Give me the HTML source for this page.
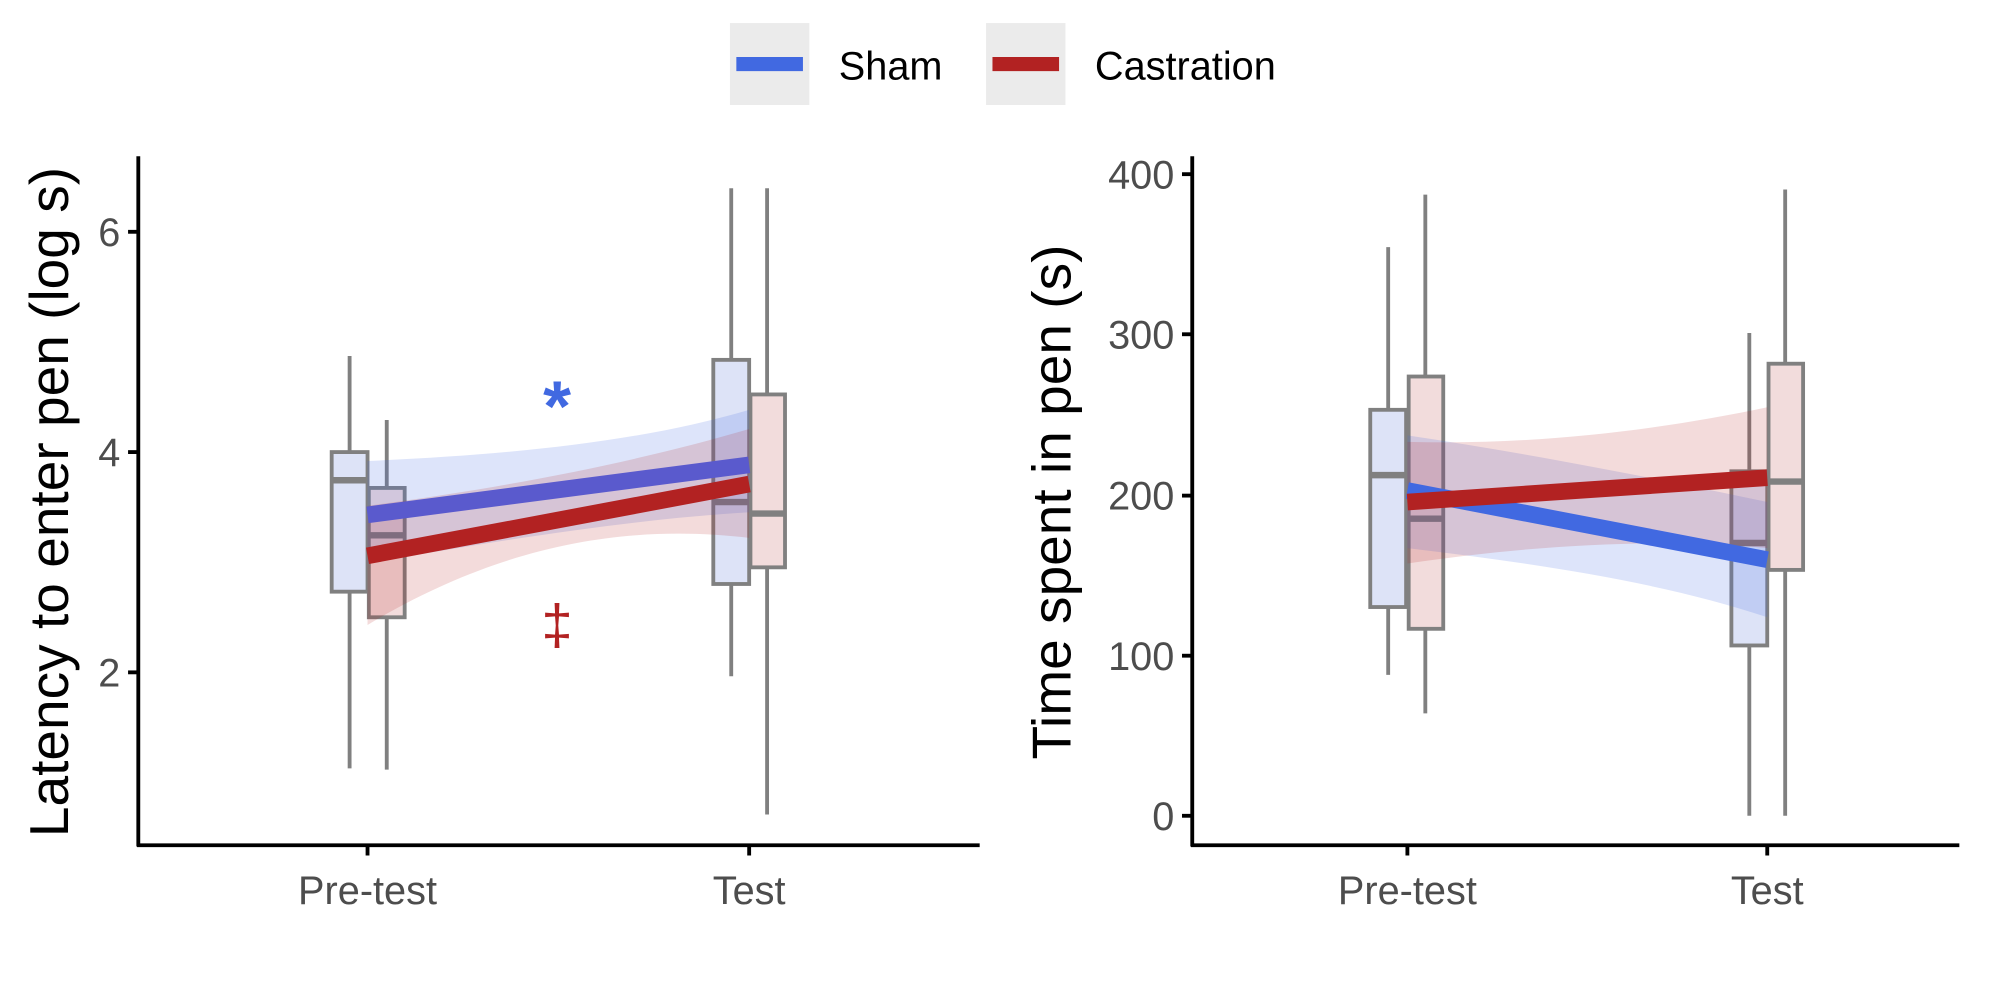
<!DOCTYPE html>
<html><head><meta charset="utf-8"><style>
html,body{margin:0;padding:0;background:#fff;}
svg{display:block;font-family:"Liberation Sans",sans-serif;}
</style></head><body>
<svg width="2008" height="1002" viewBox="0 0 1568 782.4" preserveAspectRatio="none" xmlns="http://www.w3.org/2000/svg">
<!-- Legend -->
<rect x="570" y="18" width="62" height="64" fill="#ebebeb"/>
<line x1="575" y1="50" x2="627" y2="50" stroke="#4169e1" stroke-width="11"/>
<text x="655" y="62" font-size="31" fill="#000">Sham</text>
<rect x="770" y="18" width="62" height="64" fill="#ebebeb"/>
<line x1="775" y1="50" x2="827" y2="50" stroke="#b22222" stroke-width="11"/>
<text x="855" y="62" font-size="31" fill="#000">Castration</text>

<!-- LEFT PANEL -->
<g stroke="#808080" stroke-width="3" fill="none">
 <line x1="273" y1="278" x2="273" y2="600"/>
 <rect x="259" y="353" width="28" height="109" fill="#dde3f7"/>
 <line x1="302" y1="328" x2="302" y2="601"/>
 <rect x="288" y="381" width="28" height="101" fill="#f2dcdc"/>
 <line x1="571" y1="147" x2="571" y2="528"/>
 <rect x="557" y="281" width="28" height="175" fill="#dde3f7"/>
 <line x1="599" y1="147" x2="599" y2="636"/>
 <rect x="586" y="308" width="27" height="135" fill="#f2dcdc"/>
</g>
<g stroke="#808080" stroke-width="5">
 <line x1="259" y1="375" x2="287" y2="375"/>
 <line x1="288" y1="418" x2="316" y2="418"/>
 <line x1="557" y1="392" x2="585" y2="392"/>
 <line x1="586" y1="401" x2="613" y2="401"/>
</g>
<path d="M287,360 C400,355 500,345 585,320 L585,400 C500,405 400,420 287,440 Z" fill="#4169e1" fill-opacity="0.18"/>
<path d="M287,395 C400,380 500,360 585,335 L585,420 C500,410 400,420 287,488 Z" fill="#b22222" fill-opacity="0.16"/>
<line x1="287" y1="402" x2="585" y2="363" stroke="#5a5acd" stroke-width="13"/>
<line x1="287" y1="434" x2="585" y2="378" stroke="#b22222" stroke-width="13"/>
<text x="435" y="336" font-size="56" fill="#4169e1" text-anchor="middle" font-weight="bold">*</text>
<text x="435" y="503" font-size="44" fill="#b22222" text-anchor="middle">‡</text>
<g stroke="#000" stroke-width="3">
 <line x1="108" y1="122" x2="108" y2="661"/>
 <line x1="107" y1="660" x2="765" y2="660"/>
 <line x1="100" y1="181" x2="108" y2="181"/>
 <line x1="100" y1="353" x2="108" y2="353"/>
 <line x1="100" y1="525" x2="108" y2="525"/>
 <line x1="287" y1="660" x2="287" y2="668"/>
 <line x1="585" y1="660" x2="585" y2="668"/>
</g>
<g font-size="31" fill="#4d4d4d" text-anchor="end">
 <text x="94" y="192">6</text><text x="94" y="364">4</text><text x="94" y="536">2</text>
</g>
<g font-size="31" fill="#4d4d4d" text-anchor="middle">
 <text x="287" y="706">Pre-test</text><text x="585" y="706">Test</text>
</g>
<text transform="translate(53,392) rotate(-90)" font-size="43" fill="#000" text-anchor="middle">Latency to enter pen (log s)</text>

<!-- RIGHT PANEL -->
<g stroke="#808080" stroke-width="3" fill="none">
 <line x1="1084" y1="193" x2="1084" y2="527"/>
 <rect x="1070" y="320" width="28" height="154" fill="#dde3f7"/>
 <line x1="1113" y1="152" x2="1113" y2="557"/>
 <rect x="1100" y="294" width="27" height="197" fill="#f2dcdc"/>
 <line x1="1366" y1="260" x2="1366" y2="637"/>
 <rect x="1352" y="368" width="28" height="136" fill="#dde3f7"/>
 <line x1="1394" y1="148" x2="1394" y2="637"/>
 <rect x="1381" y="284" width="27" height="161" fill="#f2dcdc"/>
</g>
<g stroke="#808080" stroke-width="5">
 <line x1="1070" y1="371" x2="1098" y2="371"/>
 <line x1="1100" y1="405" x2="1127" y2="405"/>
 <line x1="1352" y1="424" x2="1380" y2="424"/>
 <line x1="1381" y1="376" x2="1408" y2="376"/>
</g>
<path d="M1099,340 C1200,355 1300,375 1380,392 L1380,482 C1300,455 1200,440 1099,428 Z" fill="#4169e1" fill-opacity="0.18"/>
<path d="M1099,345 C1200,348 1300,335 1380,318 L1380,428 C1300,420 1200,425 1099,440 Z" fill="#b22222" fill-opacity="0.16"/>
<line x1="1099" y1="383" x2="1380" y2="437" stroke="#4169e1" stroke-width="13"/>
<line x1="1099" y1="392" x2="1380" y2="373" stroke="#b22222" stroke-width="13"/>
<g stroke="#000" stroke-width="3">
 <line x1="931" y1="122" x2="931" y2="661"/>
 <line x1="930" y1="660" x2="1530" y2="660"/>
 <line x1="923" y1="136" x2="931" y2="136"/>
 <line x1="923" y1="261" x2="931" y2="261"/>
 <line x1="923" y1="387" x2="931" y2="387"/>
 <line x1="923" y1="512" x2="931" y2="512"/>
 <line x1="923" y1="637" x2="931" y2="637"/>
 <line x1="1099" y1="660" x2="1099" y2="668"/>
 <line x1="1380" y1="660" x2="1380" y2="668"/>
</g>
<g font-size="31" fill="#4d4d4d" text-anchor="end">
 <text x="917" y="147">400</text><text x="917" y="272">300</text><text x="917" y="398">200</text><text x="917" y="523">100</text><text x="917" y="648">0</text>
</g>
<g font-size="31" fill="#4d4d4d" text-anchor="middle">
 <text x="1099" y="706">Pre-test</text><text x="1380" y="706">Test</text>
</g>
<text transform="translate(836,392) rotate(-90)" font-size="43" fill="#000" text-anchor="middle">Time spent in pen (s)</text>
</svg>
</body></html>
